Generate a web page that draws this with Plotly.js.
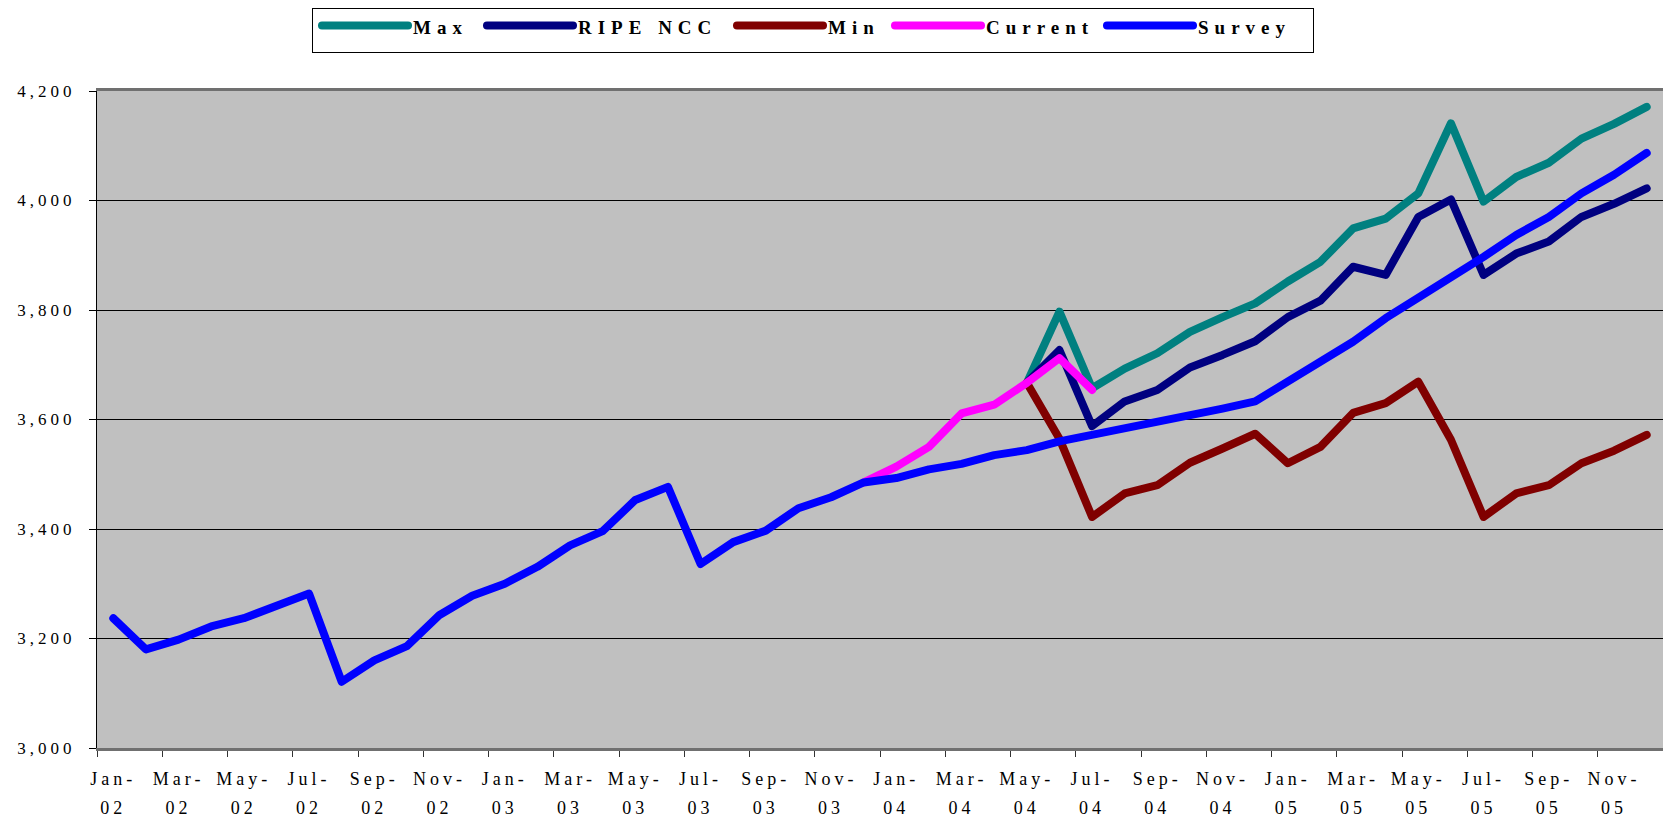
<!DOCTYPE html>
<html>
<head>
<meta charset="utf-8">
<script src="https://cdn.plot.ly/plotly-3.0.1.min.js"></script>
<style>
  html, body { margin: 0; padding: 0; background: #fff; }
  #chart { width: 1663px; height: 821px; }
  .xtick text, .x2tick text { letter-spacing: 4px; }
  .ytick text { letter-spacing: 4px; }
  .legendtext { letter-spacing: 6px; font-size: 19px !important; }
  .legend .legendlines, .legend .legendtext { transform: translate(4px, -5px); }
  .scatterlayer .js-line { stroke-linejoin: round !important; stroke-linecap: round !important; }
  .legendlines path { stroke-linecap: round !important; stroke-width: 8px !important; }
</style>
</head>
<body>
<div id="chart"></div>
<script>
// Categories (monthly, Jan-02 .. Dec-05)
const months = [
  'Jan-02','Feb-02','Mar-02','Apr-02','May-02','Jun-02','Jul-02','Aug-02','Sep-02','Oct-02','Nov-02','Dec-02',
  'Jan-03','Feb-03','Mar-03','Apr-03','May-03','Jun-03','Jul-03','Aug-03','Sep-03','Oct-03','Nov-03','Dec-03',
  'Jan-04','Feb-04','Mar-04','Apr-04','May-04','Jun-04','Jul-04','Aug-04','Sep-04','Oct-04','Nov-04','Dec-04',
  'Jan-05','Feb-05','Mar-05','Apr-05','May-05','Jun-05','Jul-05','Aug-05','Sep-05','Oct-05','Nov-05','Dec-05'
];

// Series values
const maxVals = [
  null,null,null,null,null,null,null,null,null,null,null,null,
  null,null,null,null,null,null,null,null,null,null,null,null,
  null,null,null,null,3667,3797,3657,3693,3721,3760,3787,3812,
  3852,3888,3949,3967,4013,4141,3998,4043,4069,4113,4140,4171
];
const ripeVals = [
  null,null,null,null,null,null,null,null,null,null,null,null,
  null,null,null,null,null,null,null,null,null,null,null,null,
  null,null,null,null,3667,3727,3588,3633,3654,3695,3718,3743,
  3787,3817,3879,3864,3970,4002,3864,3903,3925,3970,3994,4022
];
const minVals = [
  null,null,null,null,null,null,null,null,null,null,null,null,
  null,null,null,null,null,null,null,null,null,null,null,null,
  null,null,null,null,3667,3565,3422,3465,3480,3521,3547,3574,
  3520,3550,3612,3630,3669,3563,3422,3465,3480,3520,3543,3572
];
const currentVals = [
  null,null,null,null,null,null,null,null,null,null,null,null,
  null,null,null,null,null,null,null,null,null,null,null,3485,
  3514,3550,3611,3627,3667,3712,3654,null,null,null,null,null,
  null,null,null,null,null,null,null,null,null,null,null,null
];
const surveyVals = [
  3237,3180,3198,3222,3237,3260,3282,3121,3160,3186,3243,3278,
  3300,3331,3370,3396,3453,3477,3336,3376,3397,3438,3458,3485,
  3493,3509,3519,3535,3544,3560,3572,3581,3596,3605,3620,3633,
  3669,3706,3742,3785,3821,3858,3897,3937,3970,4013,4047,4087
];

const seriesNames = ['Max', 'RIPE NCC', 'Min', 'Current', 'Survey'];
const seriesColors = ['#008080', '#000080', '#800000', '#FF00FF', '#0000FF'];
const seriesData = [maxVals, ripeVals, minVals, currentVals, surveyVals];
// legend entry text-slot widths (px), layout only
const legendSlots = [64, 149, 57, 111, 114];

// Tick labels: every second month, split into month and year rows
const labelIdx = months.map((m, i) => i).filter(i => i % 2 === 0);
const monthText = labelIdx.map(i => months[i].split('-')[0] + '-');
const yearText = labelIdx.map(i => months[i].split('-')[1]);
const boundaryVals = labelIdx.map(i => i - 0.5).concat([months.length - 0.5]);
const xIdx = months.map((m, i) => i);

const FONT = 'Liberation Serif, Times New Roman, serif';

const traces = seriesData.map((vals, k) => ({
  type: 'scatter',
  mode: 'lines',
  name: seriesNames[k],
  x: xIdx,
  y: vals,
  text: months,
  line: { color: seriesColors[k], width: 8 },
  legendwidth: legendSlots[k],
  connectgaps: false,
  hoverinfo: 'text+y+name'
}));

// helper trace so the year-label axis exists (draws nothing)
traces.push({
  type: 'scatter', mode: 'none', x: xIdx, y: surveyVals,
  xaxis: 'x2', showlegend: false, hoverinfo: 'skip'
});

const xRange = [-0.5, months.length - 0.5];

const layout = {
  width: 1663,
  height: 821,
  margin: { l: 97, r: 0, t: 91, b: 73, pad: 0 },
  paper_bgcolor: '#ffffff',
  plot_bgcolor: '#C0C0C0',
  showlegend: true,
  legend: {
    orientation: 'h',
    xref: 'container', yref: 'container',
    x: 312 / 1663, y: 1 - 8 / 821,
    xanchor: 'left', yanchor: 'top',
    bgcolor: '#ffffff',
    bordercolor: '#000000',
    borderwidth: 1,
    itemwidth: 86,
    font: { family: FONT, size: 23, color: '#000', weight: 'bold' }
  },
  xaxis: {
    range: xRange,
    tickmode: 'array',
    tickvals: labelIdx,
    ticktext: monthText,
    ticks: '',
    ticklabelstandoff: 12,
    tickfont: { family: FONT, size: 18, color: '#000' },
    minor: {
      tickmode: 'array',
      tickvals: boundaryVals,
      ticks: 'outside',
      ticklen: 6,
      tickwidth: 1,
      tickcolor: '#333333',
      showgrid: false
    },
    showgrid: false,
    zeroline: false,
    showline: true,
    linecolor: '#707070',
    linewidth: 3,
    mirror: true,
    fixedrange: true
  },
  xaxis2: {
    overlaying: 'x',
    anchor: 'y',
    side: 'bottom',
    range: xRange,
    tickmode: 'array',
    tickvals: labelIdx,
    ticktext: yearText,
    ticks: '',
    ticklabelstandoff: 47,
    tickfont: { family: FONT, size: 18, color: '#000' },
    showgrid: false,
    zeroline: false,
    showline: false,
    fixedrange: true
  },
  yaxis: {
    range: [3000, 4200],
    tick0: 3000,
    dtick: 200,
    tickformat: ',d',
    ticks: 'outside',
    ticklen: 7,
    tickcolor: '#000',
    ticklabelstandoff: 10,
    tickfont: { family: FONT, size: 17, color: '#000' },
    showgrid: true,
    gridcolor: '#000000',
    gridwidth: 1,
    zeroline: false,
    showline: true,
    linecolor: '#000000',
    linewidth: 1,
    fixedrange: true
  },
  hovermode: 'closest'
};

Plotly.newPlot('chart', traces, layout, { displayModeBar: false });
</script>
</body>
</html>
